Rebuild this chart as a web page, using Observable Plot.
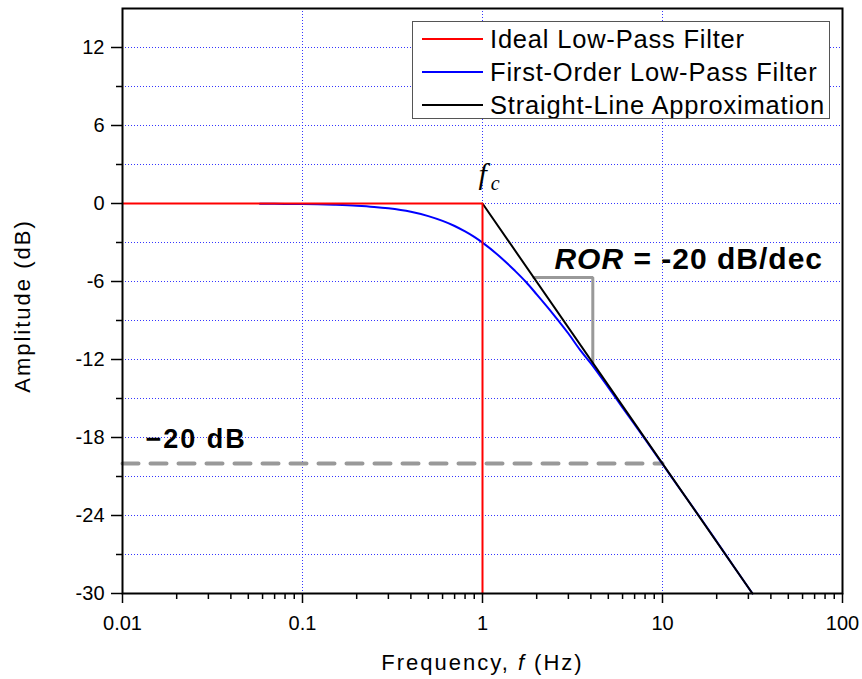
<!DOCTYPE html>
<html><head><meta charset="utf-8">
<script src="https://cdn.jsdelivr.net/npm/d3@7"></script>
<script src="https://cdn.jsdelivr.net/npm/@observablehq/plot@0.6"></script>
<style>
html,body{margin:0;padding:0;background:#fff;}
#wrap{position:relative;width:862px;height:679px;font-family:"Liberation Sans",Arial,sans-serif;}
#legend{position:absolute;left:412px;top:21px;width:416px;height:96px;border:1px solid #555;background:#fff;overflow:hidden;}
</style></head><body><div id="wrap"></div>
<script>
// ---- data ----
const idealF = [0.01, 1, 1];
const idealDb = [0, 0, -30];
const firstOrderF = [0.058, 0.08, 0.1, 0.15, 0.2, 0.25, 0.3, 0.4, 0.5, 0.6, 0.7, 0.8, 0.9, 1.0, 1.25, 1.5, 1.75, 2, 2.5, 3, 3.5, 4, 5, 6, 7, 8, 10, 12.5, 15, 20, 25, 31.6];
const firstOrderDb = [-0.01, -0.03, -0.04, -0.1, -0.17, -0.26, -0.37, -0.64, -0.97, -1.34, -1.73, -2.15, -2.57, -3.01, -4.09, -5.12, -6.06, -6.99, -8.6, -10.0, -11.3, -12.3, -14.15, -15.7, -17.0, -18.13, -20.04, -21.96, -23.5, -26.0, -27.96, -30.0];
const approxF = [1, 31.6];
const approxDb = [0, -30];
const rorF = [1.93, 4.1, 4.1];
const rorDb = [-5.7, -5.7, -12.25];
const refF = [0.01, 10];
const refDb = [-20, -20];
const xMajor = [0.01, 0.1, 1, 10, 100];
const xMinor = [0.02,0.03,0.04,0.05,0.06,0.07,0.08,0.09,0.2,0.3,0.4,0.5,0.6,0.7,0.8,0.9,2,3,4,5,6,7,8,9,20,30,40,50,60,70,80,90];
const xGrid = [0.1, 1, 10];
const yMajor = [-30, -24, -18, -12, -6, 0, 6, 12];
const yMinor = [-27, -21, -15, -9, -3, 3, 9];
const yGrid = [-27, -24, -21, -18, -15, -12, -9, -6, -3, 0, 3, 6, 9, 12];
const legendLabels = ["Ideal Low-Pass Filter", "First-Order Low-Pass Filter", "Straight-Line Approximation"];
const legendColors = ["#ff0000", "#0000ff", "#000000"];

const toRows = (xs, ys) => xs.map((f, i) => ({f, db: ys[i]}));
const sans = '"Liberation Sans", Arial, sans-serif';

const chart = Plot.plot({
  width: 862, height: 679,
  marginLeft: 122, marginRight: 20, marginTop: 8, marginBottom: 86,
  style: {fontFamily: sans, fontSize: "20px", background: "white", color: "black", overflow: "visible"},
  x: {type: "log", domain: [0.01, 100], label: null},
  y: {domain: [-30, 15], label: null},
  marks: [
    Plot.gridY(yGrid, {stroke: "#1f1fff", strokeOpacity: 0.9, strokeDasharray: "1,2", strokeWidth: 1}),
    Plot.gridX(xGrid, {stroke: "#1f1fff", strokeOpacity: 0.9, strokeDasharray: "1,2", strokeWidth: 1}),
    Plot.line(toRows(refF, refDb), {x: "f", y: "db", stroke: "#999", strokeWidth: 4, strokeDasharray: "16,12"}),
    Plot.line(toRows(rorF, rorDb), {x: "f", y: "db", stroke: "#999", strokeWidth: 3, strokeLinejoin: "miter"}),
    Plot.line(toRows(firstOrderF, firstOrderDb), {x: "f", y: "db", stroke: "#0000ff", strokeWidth: 2, curve: "monotone-x"}),
    Plot.line(toRows(approxF, approxDb), {x: "f", y: "db", stroke: "#000", strokeWidth: 2}),
    Plot.line(toRows(idealF, idealDb), {x: "f", y: "db", stroke: "#ff0000", strokeWidth: 2, strokeLinejoin: "miter"}),
    Plot.frame({stroke: "black", strokeWidth: 2}),
    Plot.axisX(xMajor, {tickSize: 10, tickPadding: 12, strokeWidth: 1.5, label: null, fontSize: 20, tickFormat: d => String(d)}),
    Plot.axisX(xMinor, {tickSize: 6, strokeWidth: 1.5, label: null, tickFormat: () => ""}),
    Plot.axisY(yMajor, {tickSize: 11, tickPadding: 7, strokeWidth: 1.5, label: null, fontSize: 20, tickFormat: d => String(d)}),
    Plot.axisY(yMinor, {tickSize: 6, strokeWidth: 1.5, label: null, tickFormat: () => ""}),
    Plot.text(["Amplitude (dB)"], {frameAnchor: "left", text: d => d, rotate: -90, textAnchor: "middle", dx: -93, dy: 5, lineAnchor: "bottom", fontSize: 22}),
    Plot.text(["Frequency, f (Hz)"], {frameAnchor: "bottom", text: d => d, textAnchor: "middle", dy: 76, lineAnchor: "bottom", fontSize: 22}),
    Plot.text([{f: 2.51, db: -5.0, t: "ROR = -20 dB/dec"}], {x: "f", y: "db", text: "t", textAnchor: "start", lineAnchor: "bottom", fontSize: 30, fontWeight: "bold"}),
    Plot.text([{f: 0.01343, db: -18.8, t: "\u221220 dB"}], {x: "f", y: "db", text: "t", textAnchor: "start", lineAnchor: "bottom", fontSize: 27, fontWeight: "bold"}),
    Plot.text([{f: 1, db: 0, t: "fc"}], {x: "f", y: "db", text: "t", textAnchor: "start", lineAnchor: "bottom", dx: -4, dy: -20, fontSize: 30, fontFamily: '"Liberation Serif", "Times New Roman", serif'})
  ]
});

for (const t of chart.querySelectorAll("text")) {
  const s = t.textContent;
  const g = t.closest("g[aria-label]");
  const aria = g ? g.getAttribute("aria-label") : "";
  if (aria && aria.includes("tick label")) {
    t.style.fontSize = "20px";
    t.style.fontFamily = sans;
  }
  if (s === "Frequency, f (Hz)") {
    t.innerHTML = 'Frequency, <tspan font-style="italic">f</tspan> (Hz)';
    t.setAttribute("letter-spacing", "2");
  } else if (s === "Amplitude (dB)") {
    t.setAttribute("letter-spacing", "2");
  } else if (s === "ROR = -20 dB/dec") {
    t.innerHTML = '<tspan font-style="italic">ROR</tspan> = -20 dB/dec';
    t.setAttribute("letter-spacing", "1");
  } else if (s === "\u221220 dB") {
    t.setAttribute("letter-spacing", "2");
  } else if (s === "fc") {
    t.innerHTML = '<tspan font-style="italic">f</tspan><tspan font-style="italic" font-size="20" dx="4" dy="6">c</tspan>';
  }
}

const wrap = document.getElementById("wrap");
wrap.appendChild(chart);

// legend box
const leg = document.createElement("div");
leg.id = "legend";
const ns = "http://www.w3.org/2000/svg";
const lsvg = document.createElementNS(ns, "svg");
lsvg.setAttribute("width", 416); lsvg.setAttribute("height", 96);
legendLabels.forEach((lab, i) => {
  const cy = 17 + i * 33;
  const ln = document.createElementNS(ns, "line");
  ln.setAttribute("x1", 9); ln.setAttribute("x2", 70);
  ln.setAttribute("y1", cy); ln.setAttribute("y2", cy);
  ln.setAttribute("stroke", legendColors[i]); ln.setAttribute("stroke-width", 2);
  lsvg.appendChild(ln);
  const tx = document.createElementNS(ns, "text");
  tx.setAttribute("x", 77); tx.setAttribute("y", cy + 9);
  tx.setAttribute("font-size", 25.5);
  tx.setAttribute("letter-spacing", "0.8");
  tx.setAttribute("font-family", sans);
  tx.textContent = lab;
  lsvg.appendChild(tx);
});
leg.appendChild(lsvg);
wrap.appendChild(leg);
</script></body></html>
